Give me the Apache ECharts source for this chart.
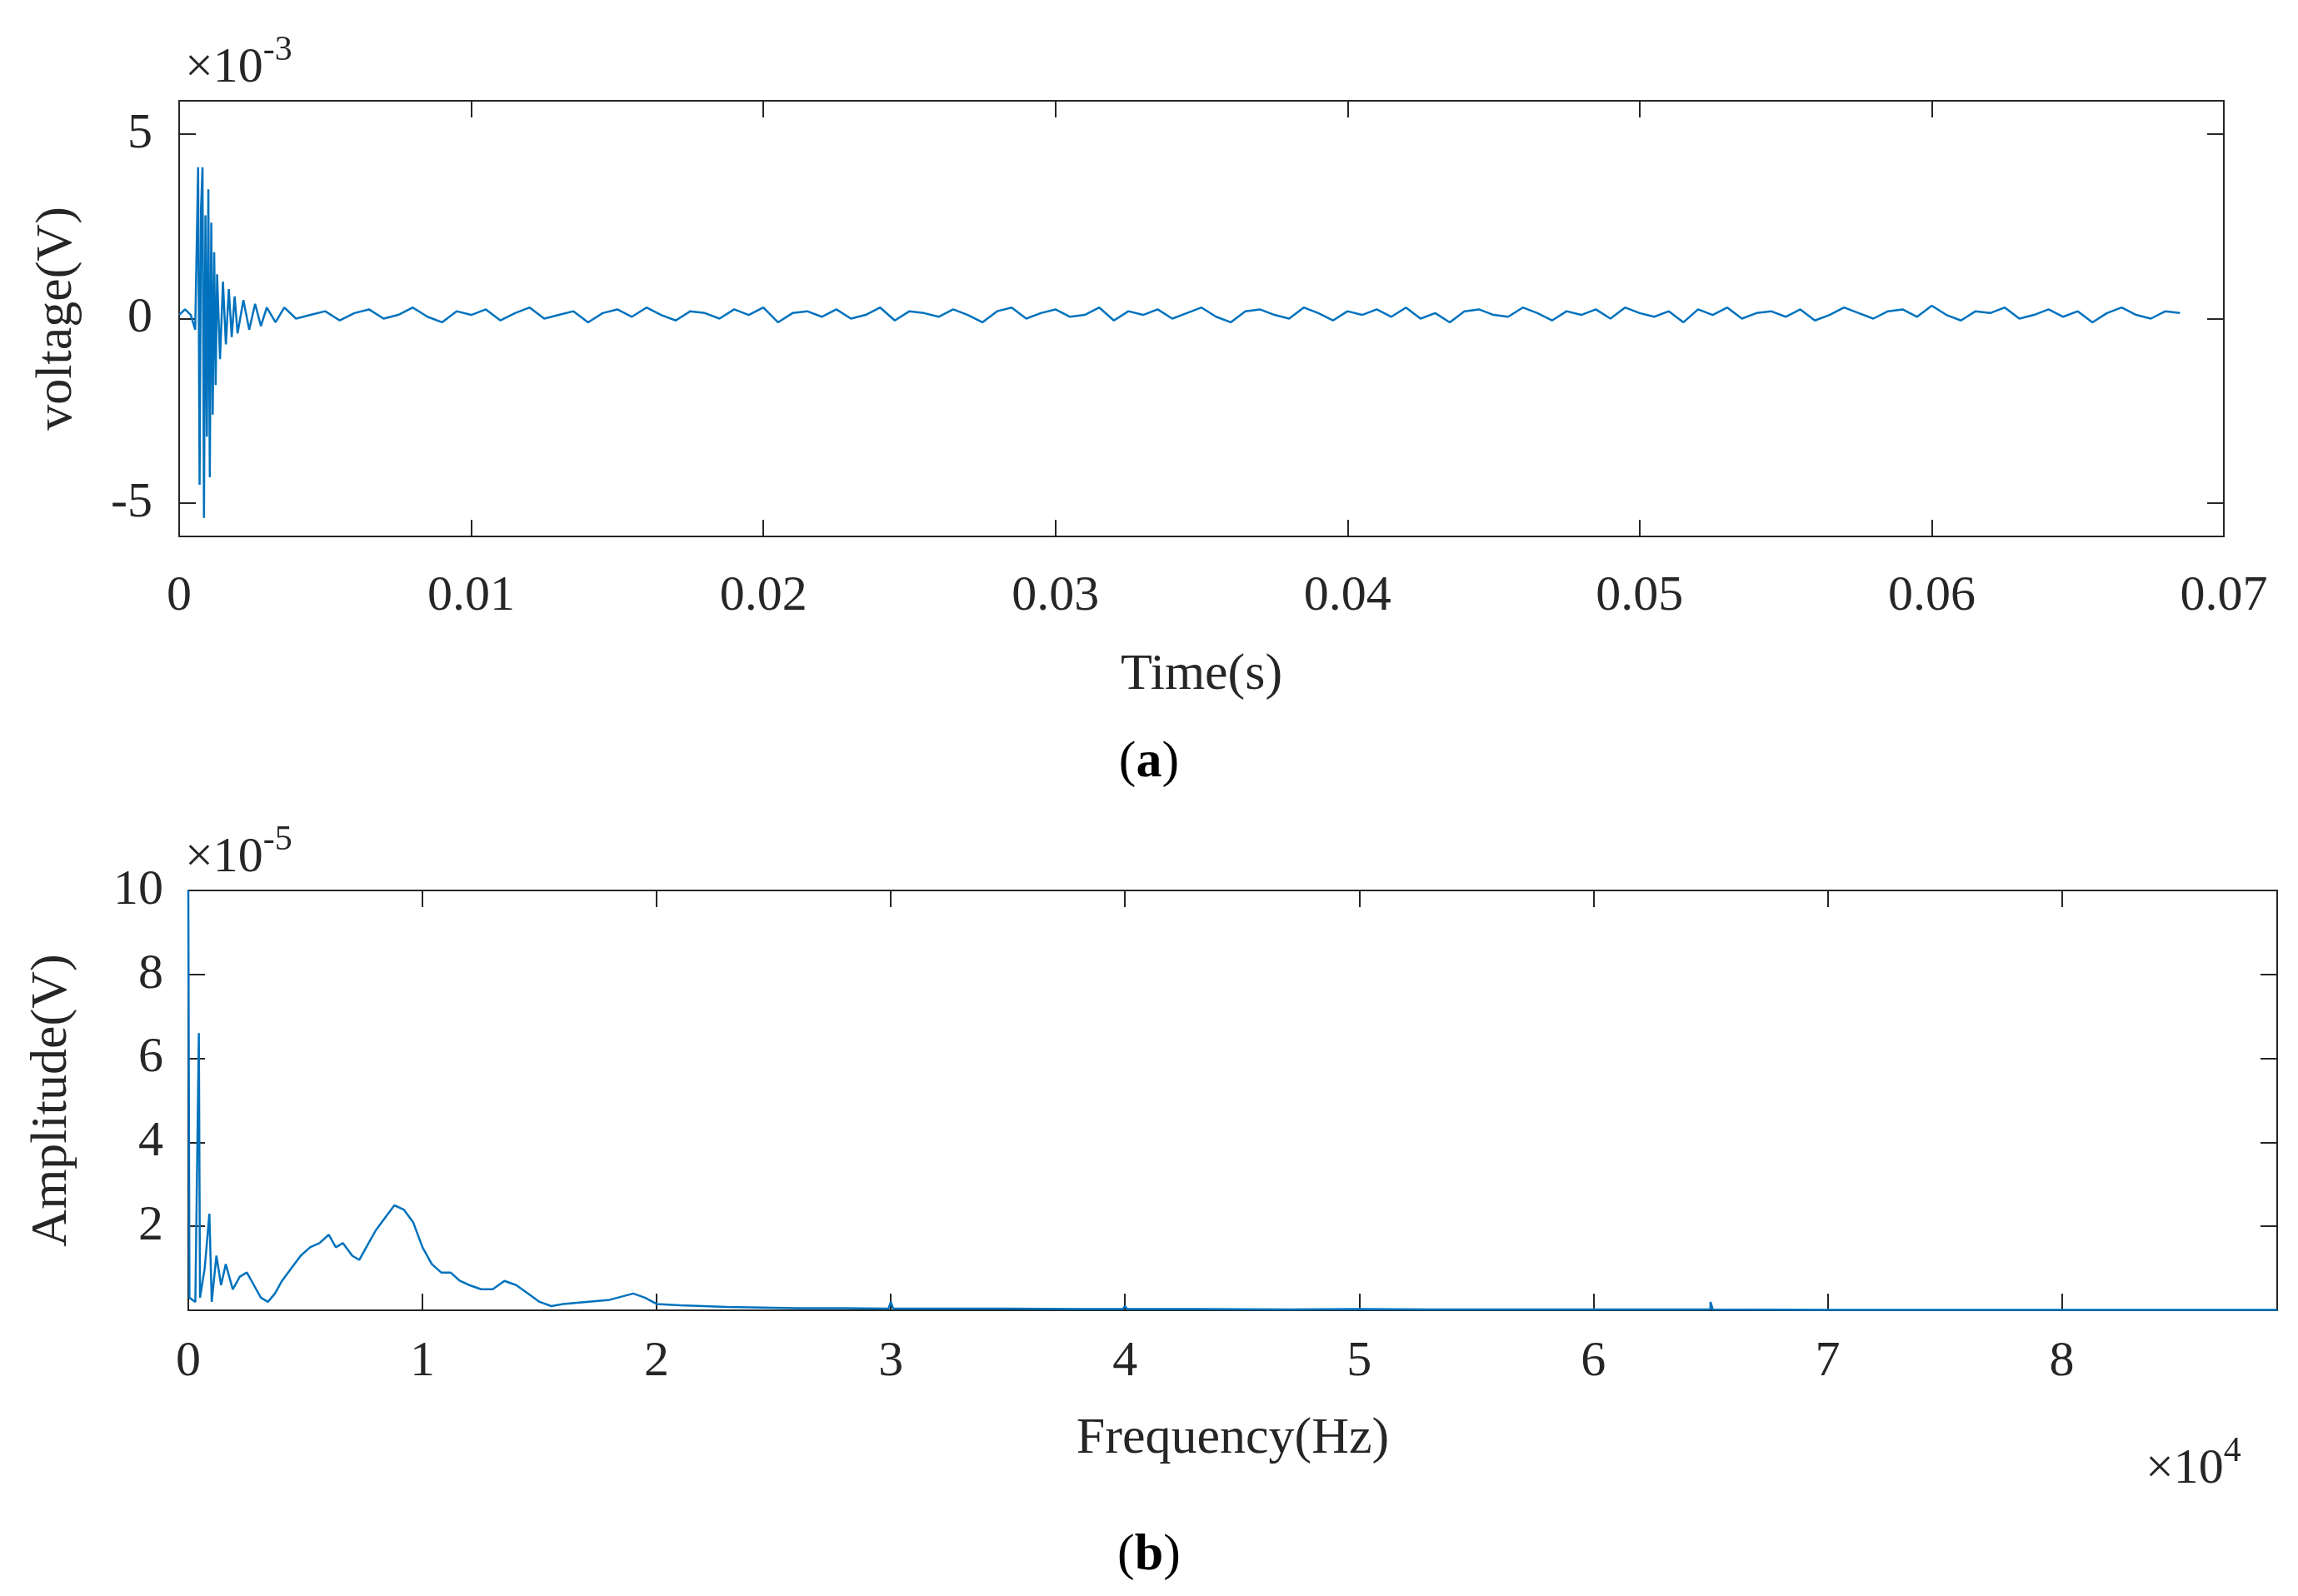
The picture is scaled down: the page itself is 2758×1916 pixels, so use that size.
<!DOCTYPE html>
<html>
<head>
<meta charset="utf-8">
<script src="https://cdn.jsdelivr.net/npm/echarts@6/dist/echarts.min.js"></script>
<style>
  html, body { margin: 0; padding: 0; background: #fff; }
  #chart { width: 2758px; height: 1916px; }
</style>
</head>
<body>
<div id="chart"></div>
<script>
// ---------------------------------------------------
// Data (a): time signal, t in s, voltage in 1e-3 V
// ---------------------------------------------------
const burstTime = [0, 0.0002, 0.0004, 0.00055, 0.00065, 0.0007, 0.00075, 0.0008, 0.00085, 0.0009,
  0.00095, 0.001, 0.00105, 0.0011, 0.00115, 0.0012, 0.00125, 0.0013, 0.0014, 0.0015,
  0.0016, 0.0017, 0.0018, 0.0019, 0.002, 0.0022, 0.0024, 0.0026, 0.0028, 0.003,
  0.0033, 0.0036, 0.004];
const burstVolt = [0.1, 0.25, 0.1, -0.3, 4.1, -4.5, 3.0, 4.1, -5.4, 2.8,
  -3.2, 3.5, -4.3, 2.6, -2.6, 1.8, -1.8, 1.2, -1.1, 1.0,
  -0.7, 0.8, -0.5, 0.6, -0.4, 0.5, -0.3, 0.4, -0.2, 0.3,
  -0.1, 0.3, 0.0];
const baseStart = 0.0045;
const baseStep = 0.0005;
const baseVolt = [0.1, 0.2, -0.05, 0.15, 0.25, 0.0, 0.1, 0.3, 0.05, -0.1,
  0.2, 0.1, 0.25, -0.05, 0.15, 0.3, 0.0, 0.1, 0.2, -0.1,
  0.15, 0.25, 0.05, 0.3, 0.1, -0.05, 0.2, 0.15, 0.0, 0.25,
  0.1, 0.3, -0.1, 0.15, 0.2, 0.05, 0.25, 0.0, 0.1, 0.3,
  -0.05, 0.2, 0.15, 0.05, 0.25, 0.1, -0.1, 0.2, 0.3, 0.0,
  0.15, 0.25, 0.05, 0.1, 0.3, -0.05, 0.2, 0.1, 0.25, 0.0,
  0.15, 0.3, 0.05, -0.1, 0.2, 0.25, 0.1, 0.0, 0.3, 0.15,
  -0.05, 0.2, 0.1, 0.25, 0.05, 0.3, 0.0, 0.15, -0.1, 0.2,
  0.25, 0.1, 0.05, 0.3, 0.15, -0.05, 0.2, 0.1, 0.25, 0.0,
  0.3, 0.15, 0.05, 0.2, -0.1, 0.25, 0.1, 0.3, 0.0, 0.15,
  0.2, 0.05, 0.25, -0.05, 0.1, 0.3, 0.15, 0.0, 0.2, 0.25,
  0.05, 0.35, 0.1, -0.05, 0.2, 0.15, 0.3, 0.0, 0.1, 0.25,
  0.05, 0.2, -0.1, 0.15, 0.3, 0.1, 0.0, 0.2, 0.15];

// ---------------------------------------------------
// Data (b): spectrum, f in 1e4 Hz, amplitude in 1e-5 V
// ---------------------------------------------------
const specFreq = [0, 0.005, 0.03, 0.045, 0.05, 0.07, 0.09, 0.1, 0.12, 0.14,
  0.16, 0.19, 0.22, 0.25, 0.28, 0.31, 0.34, 0.37, 0.4, 0.44,
  0.48, 0.52, 0.56, 0.6, 0.63, 0.66, 0.7, 0.73, 0.76, 0.8,
  0.84, 0.88, 0.92, 0.96, 1.0, 1.04, 1.08, 1.12, 1.16, 1.2,
  1.25, 1.3, 1.35, 1.4, 1.45, 1.5, 1.55, 1.6, 1.7, 1.8,
  1.9, 1.95, 2.0, 2.1, 2.2, 2.3, 2.4, 2.5, 2.6, 2.8,
  2.99, 3.0, 3.01, 3.2, 3.5, 3.8, 3.99, 4.0, 4.01, 4.3,
  4.7, 5.0, 5.3, 5.7, 6.0, 6.5, 6.5, 6.51, 7.0, 7.5,
  8.0, 8.5, 8.92];
const specAmp = [10, 0.3, 0.2, 6.6, 0.3, 1.0, 2.3, 0.2, 1.3, 0.6,
  1.1, 0.5, 0.8, 0.9, 0.6, 0.3, 0.2, 0.4, 0.7, 1.0,
  1.3, 1.5, 1.6, 1.8, 1.5, 1.6, 1.3, 1.2, 1.5, 1.9,
  2.2, 2.5, 2.4, 2.1, 1.5, 1.1, 0.9, 0.9, 0.7, 0.6,
  0.5, 0.5, 0.7, 0.6, 0.4, 0.2, 0.1, 0.15, 0.2, 0.25,
  0.4, 0.3, 0.15, 0.12, 0.1, 0.08, 0.07, 0.06, 0.05, 0.05,
  0.04, 0.2, 0.04, 0.04, 0.04, 0.03, 0.03, 0.1, 0.03, 0.03,
  0.02, 0.03, 0.02, 0.02, 0.02, 0.02, 0.2, 0.02, 0.01, 0.01,
  0.01, 0.01, 0.01];

// ---------------------------------------------------
// Build series
// ---------------------------------------------------
const timeData = burstTime.map((t, i) => [t, burstVolt[i]])
  .concat(baseVolt.map((v, i) => [baseStart + i * baseStep, v]));
const specData = specFreq.map((f, i) => [f, specAmp[i]]);

const FONT = "Liberation Serif";
const AXC = "#262626";
const LINE = "#0072BD";

const axisLine = { show: true, onZero: false, lineStyle: { color: AXC, width: 2 } };
const tickIn = len => ({ show: true, inside: true, length: len, lineStyle: { color: AXC, width: 2 } });
const lbl = margin => ({ color: AXC, fontFamily: FONT, fontSize: 60, margin: margin });
const nameStyle = { color: AXC, fontFamily: FONT, fontSize: 62 };
const sup = text => ({
  text: "{a|×10}{s|" + text + "}", fill: AXC,
  rich: {
    a: { fontFamily: FONT, fontSize: 60, color: AXC, verticalAlign: "bottom" },
    s: { fontFamily: FONT, fontSize: 42, color: AXC, verticalAlign: "top", padding: [0, 0, 30, 0] }
  }
});

const chart = echarts.init(document.getElementById("chart"));
chart.setOption({
  backgroundColor: "#fff",
  animation: false,
  grid: [
    { left: 215, top: 121, width: 2454, height: 523 },
    { left: 226, top: 1069, width: 2507, height: 504 }
  ],
  xAxis: [
    {
      gridIndex: 0, type: "value", min: 0, max: 0.07, interval: 0.01,
      name: "Time(s)", nameLocation: "middle", nameGap: 136, nameTextStyle: nameStyle,
      axisLine, axisTick: tickIn(20), splitLine: { show: false },
      axisLabel: lbl(42)
    },
    {
      gridIndex: 0, type: "value", position: "top", min: 0, max: 0.07, interval: 0.01,
      axisLine, axisTick: tickIn(20), axisLabel: { show: false }, splitLine: { show: false }
    },
    {
      gridIndex: 1, type: "value", min: 0, max: 8.92,
      name: "Frequency(Hz)", nameLocation: "middle", nameGap: 124, nameTextStyle: nameStyle,
      axisLine,
      axisTick: Object.assign(tickIn(20), { customValues: [0, 1, 2, 3, 4, 5, 6, 7, 8] }),
      axisLabel: Object.assign(lbl(32), { customValues: [0, 1, 2, 3, 4, 5, 6, 7, 8] }),
      splitLine: { show: false }
    },
    {
      gridIndex: 1, type: "value", position: "top", min: 0, max: 8.92,
      axisLine,
      axisTick: Object.assign(tickIn(20), { customValues: [0, 1, 2, 3, 4, 5, 6, 7, 8] }),
      axisLabel: { show: false }, splitLine: { show: false }
    }
  ],
  yAxis: [
    {
      gridIndex: 0, type: "value", min: -5.9, max: 5.9,
      name: "voltage(V)", nameLocation: "middle", nameGap: 115, nameTextStyle: nameStyle,
      axisLine,
      axisTick: Object.assign(tickIn(20), { customValues: [-5, 0, 5] }),
      axisLabel: Object.assign(lbl(32), { customValues: [-5, 0, 5] }),
      splitLine: { show: false }
    },
    {
      gridIndex: 0, type: "value", position: "right", min: -5.9, max: 5.9,
      axisLine,
      axisTick: Object.assign(tickIn(20), { customValues: [-5, 0, 5] }),
      axisLabel: { show: false }, splitLine: { show: false }
    },
    {
      gridIndex: 1, type: "value", min: 0, max: 10,
      name: "Amplitude(V)", nameLocation: "middle", nameGap: 132, nameTextStyle: nameStyle,
      axisLine,
      axisTick: Object.assign(tickIn(20), { customValues: [2, 4, 6, 8, 10] }),
      axisLabel: Object.assign(lbl(30), { customValues: [2, 4, 6, 8, 10] }),
      splitLine: { show: false }
    },
    {
      gridIndex: 1, type: "value", position: "right", min: 0, max: 10,
      axisLine,
      axisTick: Object.assign(tickIn(20), { customValues: [2, 4, 6, 8, 10] }),
      axisLabel: { show: false }, splitLine: { show: false }
    }
  ],
  series: [
    {
      type: "line", xAxisIndex: 0, yAxisIndex: 0, data: timeData,
      showSymbol: false, lineStyle: { color: LINE, width: 2.5 }, itemStyle: { color: LINE }
    },
    {
      type: "line", xAxisIndex: 2, yAxisIndex: 2, data: specData,
      showSymbol: false, lineStyle: { color: LINE, width: 2.5 }, itemStyle: { color: LINE }
    }
  ],
  graphic: [
    { type: "text", left: 222, top: 40, style: sup("-3") },
    { type: "text", left: 222, top: 988, style: sup("-5") },
    { type: "text", left: 2575, top: 1722, style: sup("4") },
    {
      type: "text", x: 1379, y: 916,
      style: {
        text: "({b|a})", fill: "#000", align: "center", verticalAlign: "middle",
        font: "62px " + FONT,
        rich: { b: { fontFamily: FONT, fontSize: 62, fontWeight: "bold", fill: "#000" } }
      }
    },
    {
      type: "text", x: 1379, y: 1868,
      style: {
        text: "({b|b})", fill: "#000", align: "center", verticalAlign: "middle",
        font: "62px " + FONT,
        rich: { b: { fontFamily: FONT, fontSize: 62, fontWeight: "bold", fill: "#000" } }
      }
    }
  ]
});
</script>
</body>
</html>
